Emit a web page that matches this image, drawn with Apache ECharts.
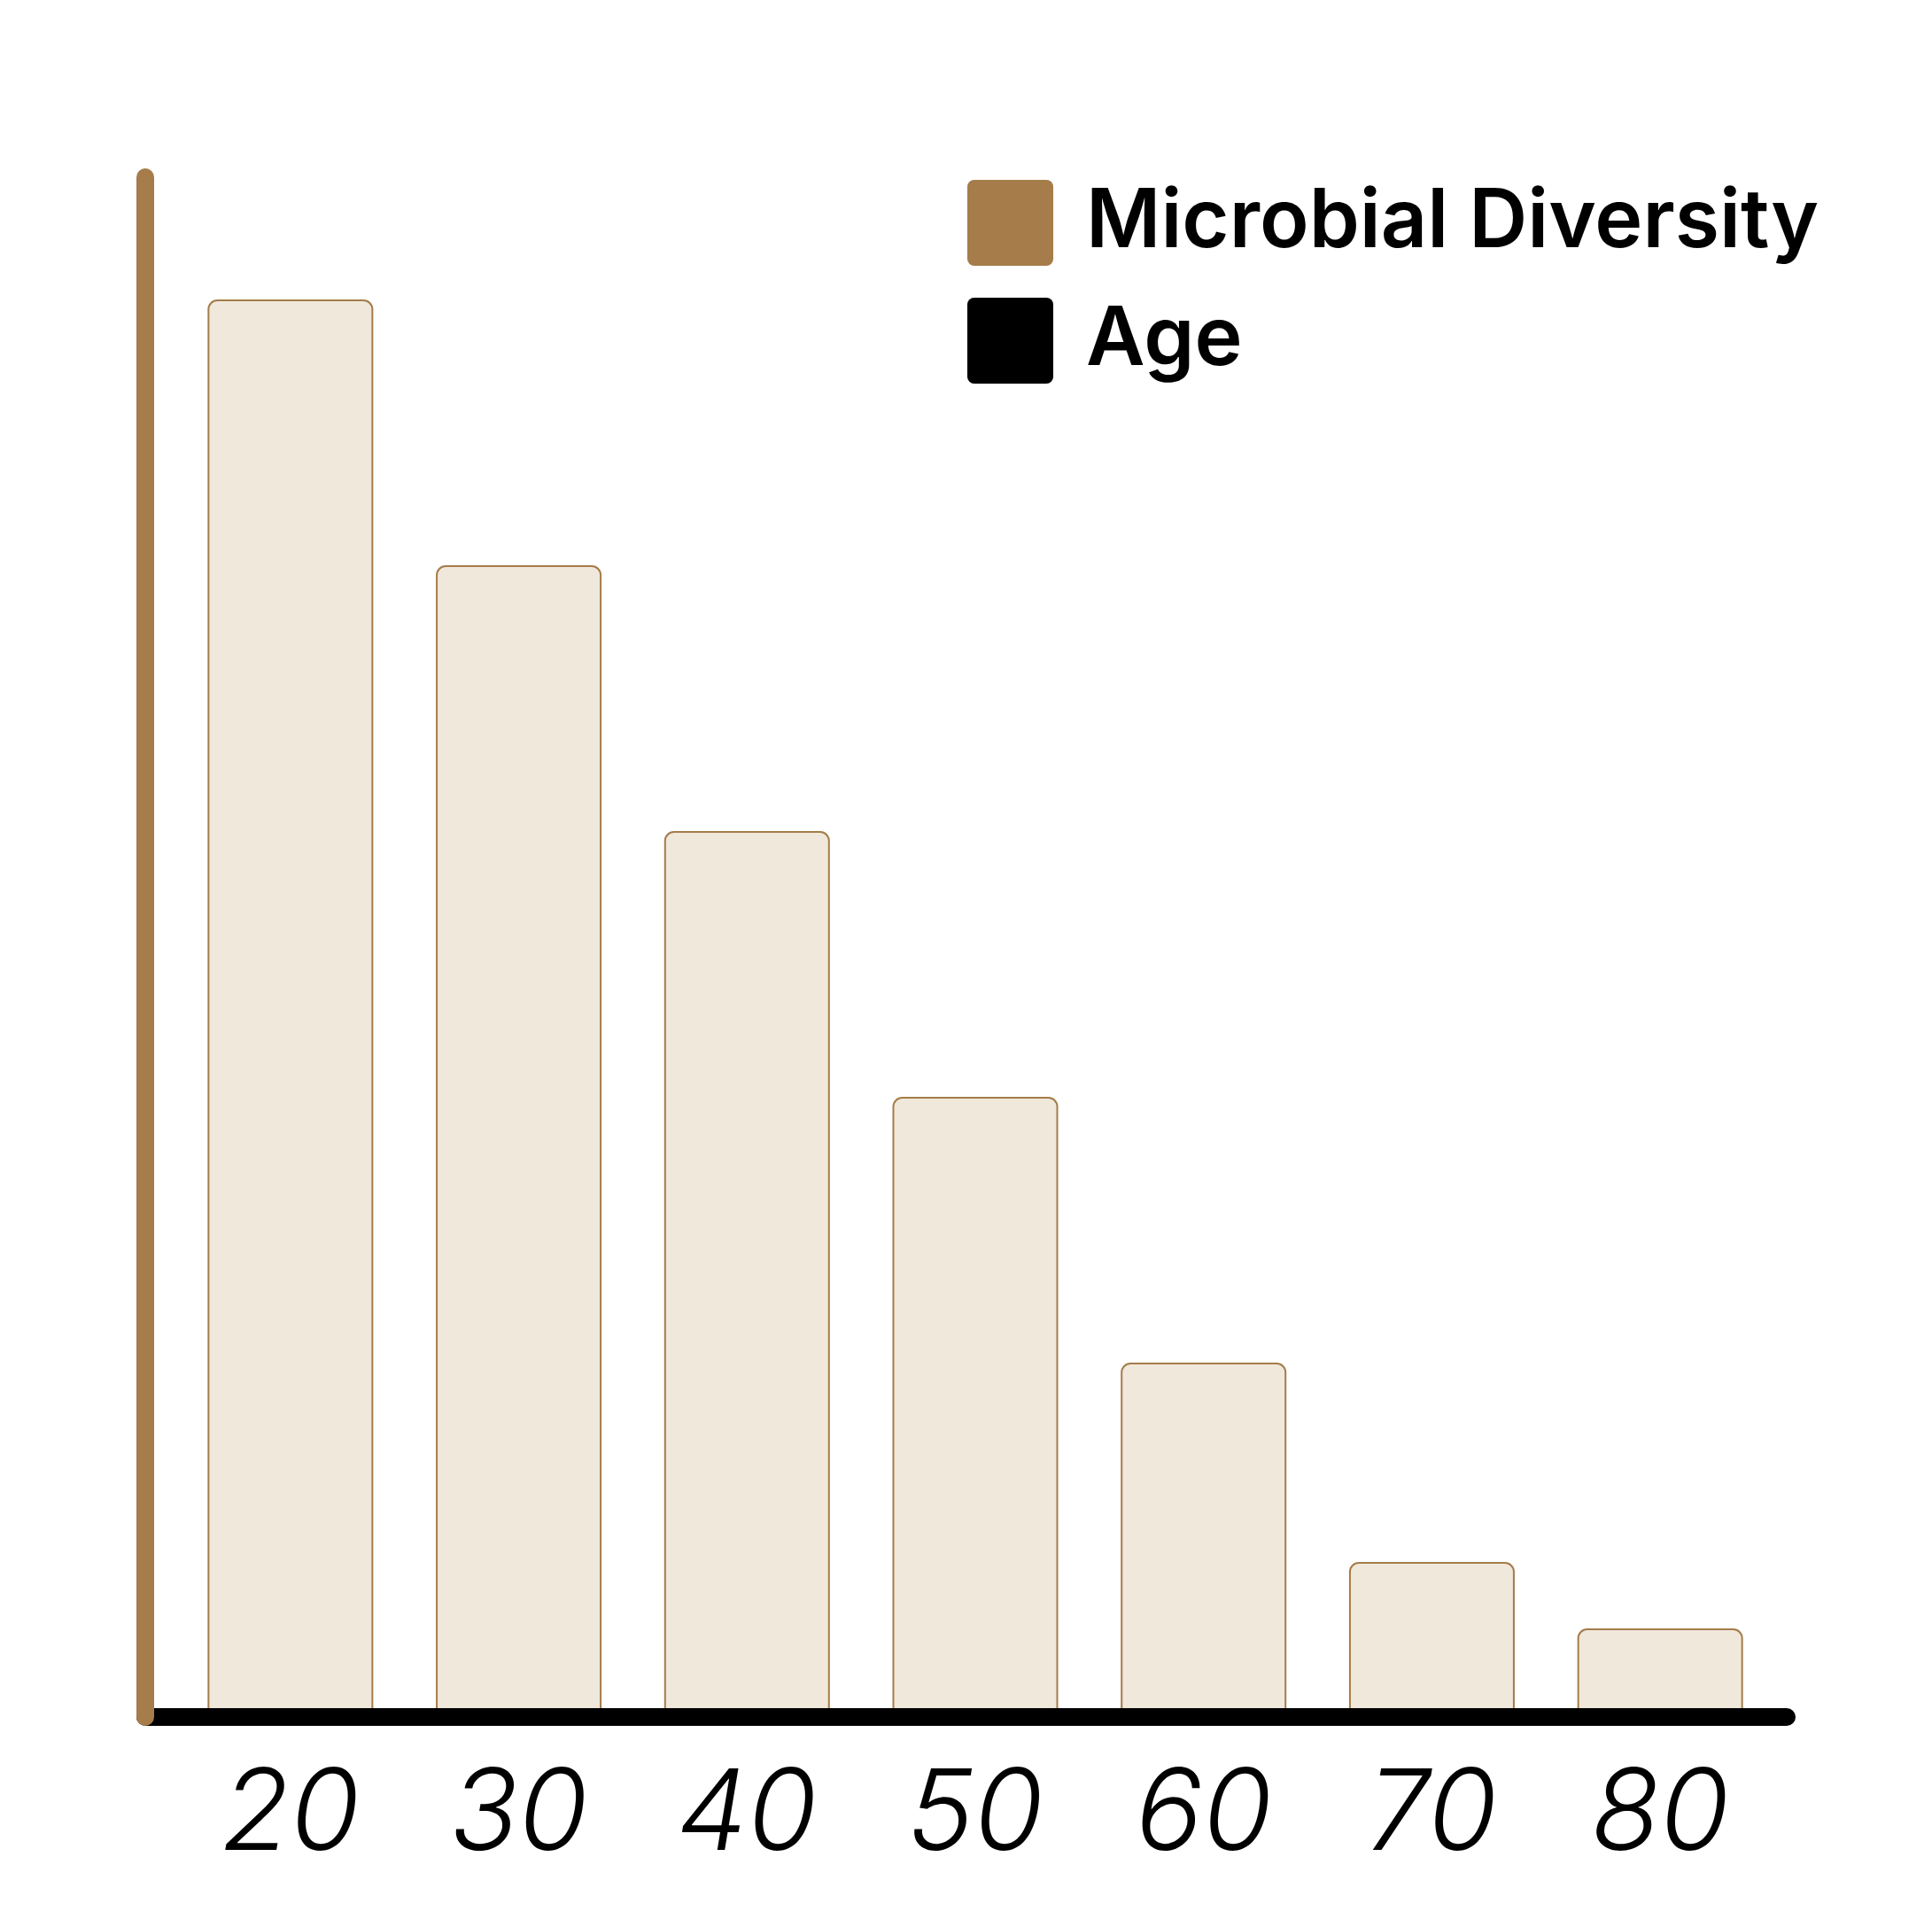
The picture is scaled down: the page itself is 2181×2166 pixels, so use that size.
<!DOCTYPE html>
<html>
<head>
<meta charset="utf-8">
<title>Microbial Diversity by Age</title>
<script src="https://cdn.jsdelivr.net/npm/echarts@6/dist/echarts.min.js"></script>
<style>
    html, body { margin: 0; padding: 0; background: #fff; }
    #chart { width: 2181px; height: 2166px; }
</style>
</head>
<body>
<div id="chart"></div>
<script>
// data
var ages = ['20', '30', '40', '50', '60', '70', '80'];
var diversity = [3.2, 2.6, 2.0, 1.4, 0.8, 0.35, 0.2];
var legendNames = ['Microbial Diversity', 'Age'];

var brown = '#A57C4A';
var cream = '#F0E8DB';
// rounded square for the legend keys
var keyIcon = 'path://M0.8,0 H9.2 A0.8,0.8 0 0 1 10,0.8 V9.2 A0.8,0.8 0 0 1 9.2,10 H0.8 A0.8,0.8 0 0 1 0,9.2 V0.8 A0.8,0.8 0 0 1 0.8,0 Z';

var chart = echarts.init(document.getElementById('chart'));

var option = {
    backgroundColor: '#fff',
    animation: false,
    legend: {
        orient: 'vertical',
        left: 1092,
        top: 203,
        padding: 0,
        itemWidth: 97,
        itemHeight: 97,
        itemGap: 36,
        icon: keyIcon,
        textStyle: {
            fontFamily: 'Inter',
            fontWeight: 580,
            fontSize: 91.5,
            color: '#000',
            padding: [0, 0, 0, 32]
        },
        data: [
            { name: legendNames[0], itemStyle: { color: brown, borderWidth: 0 } },
            { name: legendNames[1], itemStyle: { color: '#000', borderWidth: 0 } }
        ]
    },
    grid: [
        // bars
        { left: 199, right: 178, top: 200, bottom: 228 },
        // axis lines only
        { left: 164, right: 164, top: 200, bottom: 228 }
    ],
    xAxis: [
        {
            type: 'category',
            gridIndex: 0,
            data: ages,
            axisLine: { show: false },
            axisTick: { show: false },
            axisLabel: {
                margin: 48,
                fontFamily: 'Inter',
                fontStyle: 'italic',
                fontWeight: 350,
                fontSize: 127,
                color: '#000'
            }
        },
        {
            type: 'value',
            gridIndex: 1,
            min: 0,
            max: 1,
            z: 5,
            axisLine: {
                show: true,
                onZero: false,
                lineStyle: { color: '#000', width: 20, cap: 'round' }
            },
            axisTick: { show: false },
            axisLabel: { show: false },
            splitLine: { show: false }
        }
    ],
    yAxis: [
        {
            type: 'value',
            gridIndex: 0,
            min: 0,
            max: 3.476,
            axisLine: { show: false },
            axisTick: { show: false },
            axisLabel: { show: false },
            splitLine: { show: false }
        },
        {
            type: 'value',
            gridIndex: 1,
            min: 0,
            max: 1,
            z: 6,
            axisLine: {
                show: true,
                onZero: false,
                lineStyle: { color: brown, width: 20, cap: 'round' }
            },
            axisTick: { show: false },
            axisLabel: { show: false },
            splitLine: { show: false }
        }
    ],
    series: [
        {
            name: legendNames[0],
            type: 'bar',
            xAxisIndex: 0,
            yAxisIndex: 0,
            barWidth: 187,
            data: diversity,
            itemStyle: {
                color: cream,
                borderColor: brown,
                borderWidth: 2,
                borderRadius: [10, 10, 0, 0]
            }
        },
        {
            // legend entry only
            name: legendNames[1],
            type: 'line',
            xAxisIndex: 1,
            yAxisIndex: 1,
            data: [],
            itemStyle: { color: '#000' },
            lineStyle: { color: '#000' }
        }
    ]
};

chart.setOption(option);
window.addEventListener('resize', function () { chart.resize(); });
</script>
</body>
</html>
